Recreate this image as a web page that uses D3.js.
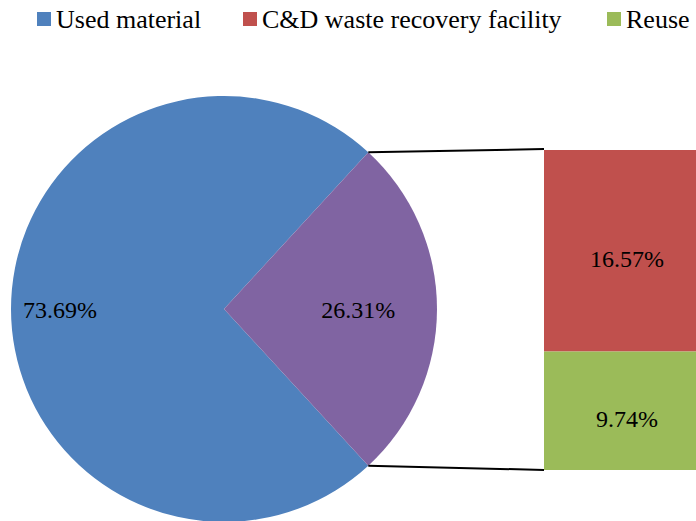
<!DOCTYPE html>
<html lang="en">
  <head>
    <meta charset="UTF-8" />
    <title>Pie of pie</title>
    <script src="https://d3js.org/d3.v7.min.js"></script>
    <style>
      body { margin: 0; background: #fff; }
      text { font-family: "Liberation Serif", "DejaVu Serif", serif; fill: #000; }
    </style>
  </head>
  <body>
    <svg width="696" height="521"></svg>
    <script>
      // main pie
      const pieNames = ["Used material", "Other"];
      const pieValues = [73.69, 26.31];
      const pieColors = ["#4f81bd", "#8064a2"];

      // breakdown of the "Other" slice
      const barNames = ["C&D waste recovery facility", "Reuse"];
      const barValues = [16.57, 9.74];
      const barColors = ["#c0504d", "#9bbb59"];

      const legendNames = ["Used material", "C&D waste recovery facility", "Reuse"];
      const legendColors = ["#4f81bd", "#c0504d", "#9bbb59"];

      const svg = d3.select("svg");
      const cx = 224, cy = 309, r = 213;

      // second slice centred on the right-hand side
      const otherFrac = pieValues[1] / d3.sum(pieValues);
      const start = Math.PI / 2 + otherFrac * Math.PI;

      const pie = d3.pie().sort(null).startAngle(start).endAngle(start + 2 * Math.PI);
      const arcs = pie(pieValues);
      const arc = d3.arc().innerRadius(0).outerRadius(r);

      const g = svg.append("g").attr("transform", `translate(${cx},${cy})`);
      g.selectAll("path")
        .data(arcs)
        .enter()
        .append("path")
        .attr("d", arc)
        .attr("fill", (d, i) => pieColors[i]);

      // labels
      const labelR = [0.77, 0.63];
      g.selectAll("text")
        .data(arcs)
        .enter()
        .append("text")
        .attr("transform", (d, i) => {
          const a = d3.arc().innerRadius(r * labelR[i]).outerRadius(r * labelR[i]);
          const c = a.centroid(d);
          return `translate(${c[0]},${c[1] + 9})`;
        })
        .attr("text-anchor", "middle")
        .style("font-size", "24px")
        .text((d) => d.value.toFixed(2) + "%");

      // stacked bar
      const barX = 544, barW = 166;
      const y = d3.scaleLinear().domain([0, d3.sum(barValues)]).range([150, 470]);
      const stacked = [];
      let acc = 0;
      barValues.forEach((v, i) => {
        stacked.push({ v: v, y0: acc, y1: acc + v, color: barColors[i] });
        acc += v;
      });
      svg.selectAll("rect.seg")
        .data(stacked)
        .enter()
        .append("rect")
        .attr("class", "seg")
        .attr("x", barX)
        .attr("width", barW)
        .attr("y", (d) => y(d.y0))
        .attr("height", (d) => y(d.y1) - y(d.y0))
        .attr("fill", (d) => d.color);
      svg.selectAll("text.seg")
        .data(stacked)
        .enter()
        .append("text")
        .attr("class", "seg")
        .attr("x", barX + 83)
        .attr("y", (d) => (y(d.y0) + y(d.y1)) / 2 + 16)
        .attr("text-anchor", "middle")
        .style("font-size", "24px")
        .text((d) => d.v.toFixed(2) + "%");

      // connector lines from the slice edges to the bar corners
      const other = arcs[1];
      [other.startAngle, other.endAngle].forEach((a, i) => {
        const px = cx + r * Math.sin(a);
        const py = cy - r * Math.cos(a);
        svg.append("line")
          .attr("x1", px).attr("y1", py)
          .attr("x2", barX).attr("y2", i === 0 ? y(0) - 1 : y(d3.sum(barValues)))
          .attr("stroke", "#000")
          .attr("stroke-width", 2);
      });

      // legend
      const legendX = [37, 243, 607];
      legendNames.forEach((name, i) => {
        svg.append("rect")
          .attr("x", legendX[i]).attr("y", 12)
          .attr("width", 14).attr("height", 14)
          .attr("fill", legendColors[i]);
        svg.append("text")
          .attr("x", legendX[i] + 19).attr("y", 28)
          .style("font-size", "26px")
          .text(name);
      });
    </script>
  </body>
</html>
